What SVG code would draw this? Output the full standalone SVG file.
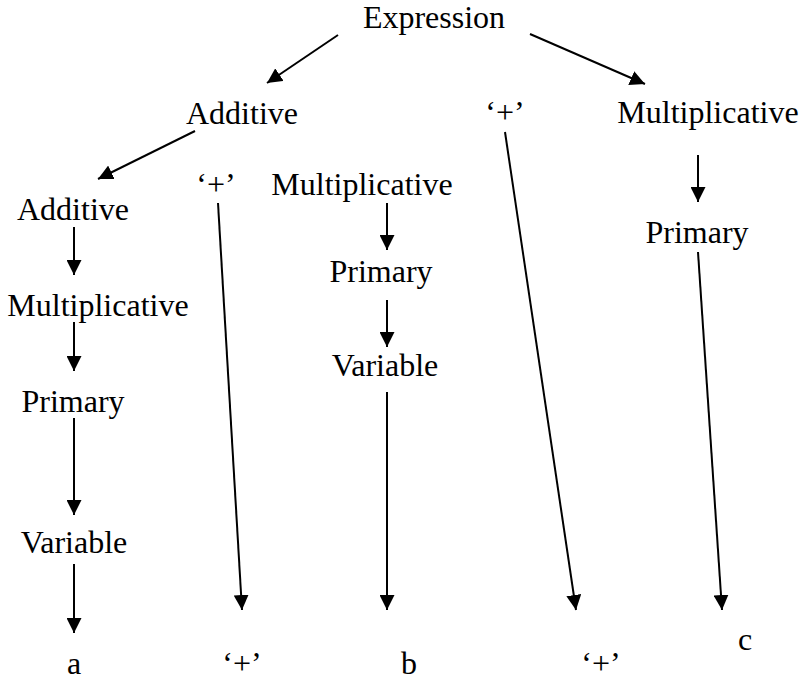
<svg xmlns="http://www.w3.org/2000/svg" width="801" height="681" viewBox="0 0 801 681">
  <style>
    .lbl { font-family: "Liberation Serif", "Times New Roman", serif; font-size: 32px; fill: #000; text-anchor: middle; }
    .edge { stroke: #000; stroke-width: 2; fill: none; marker-end: url(#head); }
  </style>
  <defs>
    <marker id="head" markerUnits="userSpaceOnUse" markerWidth="15" markerHeight="15" refX="15" refY="7.5" orient="auto">
      <path d="M0,0 L15,7.5 L0,15 z" fill="#000"/>
    </marker>
  </defs>
  <rect width="801" height="681" fill="#fff"/>

  <!-- parse tree nodes -->
  <g id="n-expression"><text class="lbl" x="434" y="28">Expression</text></g>
  <g id="n-additive-1"><text class="lbl" x="242" y="124">Additive</text></g>
  <g id="n-plus-1"><text class="lbl" x="505" y="123">‘+’</text></g>
  <g id="n-mult-r"><text class="lbl" x="708" y="123">Multiplicative</text></g>
  <g id="n-additive-2"><text class="lbl" x="73" y="220">Additive</text></g>
  <g id="n-plus-2"><text class="lbl" x="216" y="195">‘+’</text></g>
  <g id="n-mult-m"><text class="lbl" x="362" y="195">Multiplicative</text></g>
  <g id="n-mult-l"><text class="lbl" x="98" y="316">Multiplicative</text></g>
  <g id="n-primary-m"><text class="lbl" x="381" y="282">Primary</text></g>
  <g id="n-primary-r"><text class="lbl" x="697" y="243">Primary</text></g>
  <g id="n-primary-l"><text class="lbl" x="73" y="412">Primary</text></g>
  <g id="n-variable-m"><text class="lbl" x="385" y="376">Variable</text></g>
  <g id="n-variable-l"><text class="lbl" x="74" y="553">Variable</text></g>
  <g id="n-a"><text class="lbl" x="74" y="674">a</text></g>
  <g id="n-plus-3"><text class="lbl" x="242" y="674">‘+’</text></g>
  <g id="n-b"><text class="lbl" x="409" y="674">b</text></g>
  <g id="n-plus-4"><text class="lbl" x="601" y="674">‘+’</text></g>
  <g id="n-c"><text class="lbl" x="745" y="650">c</text></g>

  <!-- derivation arrows -->
  <g id="connectors">
    <line class="edge" x1="338" y1="35" x2="267" y2="83"/>
    <line class="edge" x1="530" y1="34" x2="645" y2="84"/>
    <line class="edge" x1="195" y1="131" x2="98" y2="179"/>
    <line class="edge" x1="74" y1="227" x2="74" y2="275"/>
    <line class="edge" x1="74" y1="322" x2="74" y2="371"/>
    <line class="edge" x1="74" y1="418" x2="74" y2="515"/>
    <line class="edge" x1="74" y1="564" x2="74" y2="633"/>
    <line class="edge" x1="218" y1="203" x2="242" y2="610"/>
    <line class="edge" x1="387" y1="203" x2="387" y2="250"/>
    <line class="edge" x1="387" y1="300" x2="387" y2="347"/>
    <line class="edge" x1="387" y1="392" x2="387" y2="610"/>
    <line class="edge" x1="505" y1="132" x2="576" y2="610"/>
    <line class="edge" x1="698" y1="155" x2="698" y2="202"/>
    <line class="edge" x1="698" y1="252" x2="722" y2="610"/>
  </g>
</svg>
